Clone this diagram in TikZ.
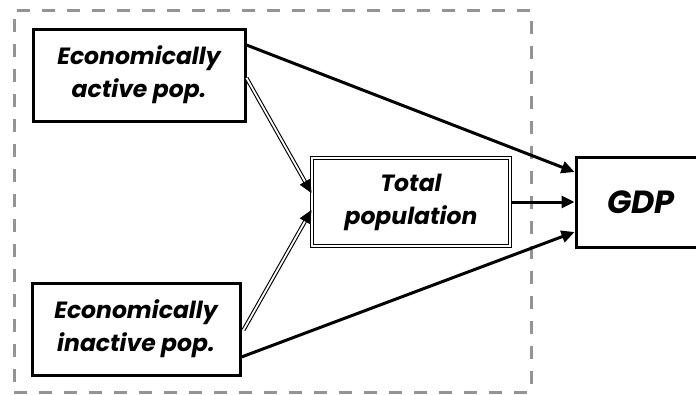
\documentclass[tikz,border=0pt]{standalone}
\usepackage{fontspec}
\setmainfont{Poppins}
\usetikzlibrary{arrows.meta,calc}
\begin{document}
\begin{tikzpicture}[x=1pt,y=-1pt,
  box/.style={draw=black,line width=3pt,fill=white,inner sep=0pt,
    align=center,font=\fontsize{23.5}{33}\selectfont\bfseries\itshape},
  link/.style={line width=3pt,-{Triangle[length=13pt,width=12pt]}},
  dbl/.style={draw=black,double=white,line width=1.1pt,double distance=1.8pt},
  tip/.style={line width=0.5pt,-{Triangle[length=13pt,width=12pt]}},
  frame/.style={draw=black!42,line width=3pt,dash pattern=on 13pt off 12pt}]
\useasboundingbox (0,0) rectangle (696,394);
\begin{scope}
\clip (0,0) rectangle (696,394);
% dashed grouping frame
\node[frame,minimum width=517pt,minimum height=382pt,inner sep=0pt] (grp) at (272.5,201) {};
% input boxes
\node[box,minimum width=212pt,minimum height=92pt] (act) at (139,75) {Economically\\active pop.};
\node[box,minimum width=208pt,minimum height=92pt] (inact) at (136,329) {Economically\\inactive pop.};
% aggregate box with a double border
\node[box,dbl,minimum width=198pt,minimum height=88pt] (tot) at (411,202) {Total\\population};
% output box
\node[box,minimum width=130pt,minimum height=90pt,
  font=\fontsize{32}{36}\selectfont\bfseries\itshape] (gdp) at (641,202) {GDP};
% direct effects
\draw[link] ([yshift=30pt]act.east) -- ([yshift=30pt]gdp.west);
\draw[link] (tot.east) -- (gdp.west);
\draw[link] ([yshift=-28pt]inact.east) -- ([yshift=-30pt]gdp.west);
% composition links (double lines)
\coordinate (a1) at ([yshift=-3pt]act.east);
\coordinate (t1) at ([yshift=9pt]tot.west);
\coordinate (b1) at ([yshift=-1pt,xshift=2pt]inact.east);
\coordinate (t2) at ([yshift=-8pt]tot.west);
\draw[dbl,shorten >=10pt] (a1) -- (t1);
\draw[tip] ($(t1)!12pt!(a1)$) -- (t1);
\draw[dbl,shorten >=10pt] (b1) -- (t2);
\draw[tip] ($(t2)!12pt!(b1)$) -- (t2);
\end{scope}
\end{tikzpicture}
\end{document}
